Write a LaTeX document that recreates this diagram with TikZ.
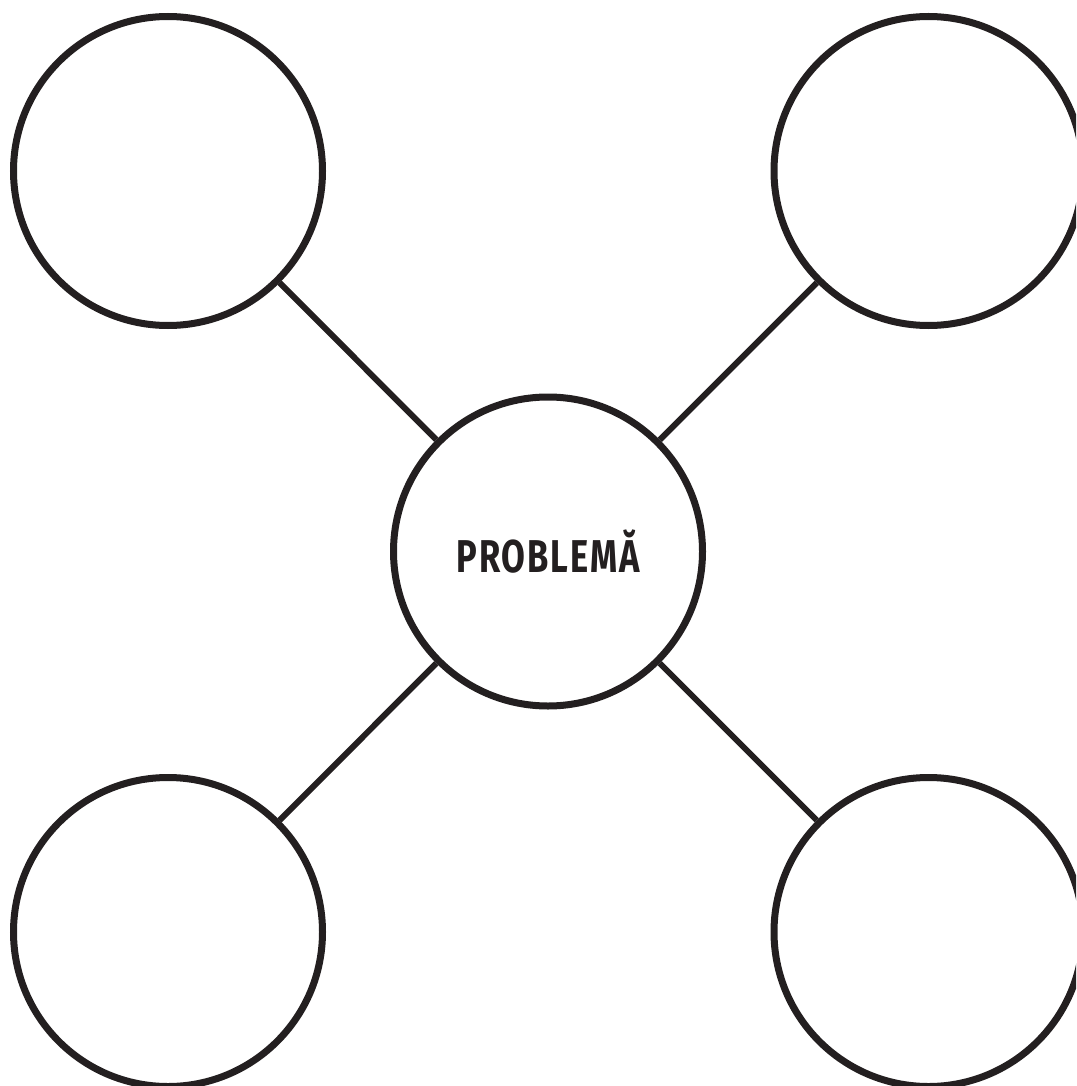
\documentclass[tikz,border=0pt]{standalone}
\usepackage{fontspec}
\newfontfamily\labelfont[FakeStretch=0.75,LetterSpace=4]{Fira Sans}
\usepackage{tikz}
\usetikzlibrary{positioning}
\definecolor{inkdark}{HTML}{231F20}
\tikzset{
    bubble/.style={circle, draw=inkdark, line width=7pt, minimum size=309pt, inner sep=0pt},
    spoke/.style={draw=inkdark, line width=6pt}
}
\begin{document}
\begin{tikzpicture}[x=1pt, y=-1pt]
    % frame of the page
    \useasboundingbox (0,0) rectangle (1076,1086);
    \clip (0,0) rectangle (1076,1086);
    % centre circle
    \node[bubble, text=inkdark] (problem) at (548,551.5) {\labelfont\fontsize{46}{50}\selectfont\bfseries PROBLEMĂ};
    % outer circles
    \node[bubble] (topleft) at (168,171) {};
    \node[bubble] (topright) at (928.5,171) {};
    \node[bubble] (bottomleft) at (168,932) {};
    \node[bubble] (bottomright) at (928.5,932) {};
    % spokes
    \draw[spoke] (problem) -- (topleft);
    \draw[spoke] (problem) -- (topright);
    \draw[spoke] (problem) -- (bottomleft);
    \draw[spoke] (problem) -- (bottomright);
\end{tikzpicture}
\end{document}
